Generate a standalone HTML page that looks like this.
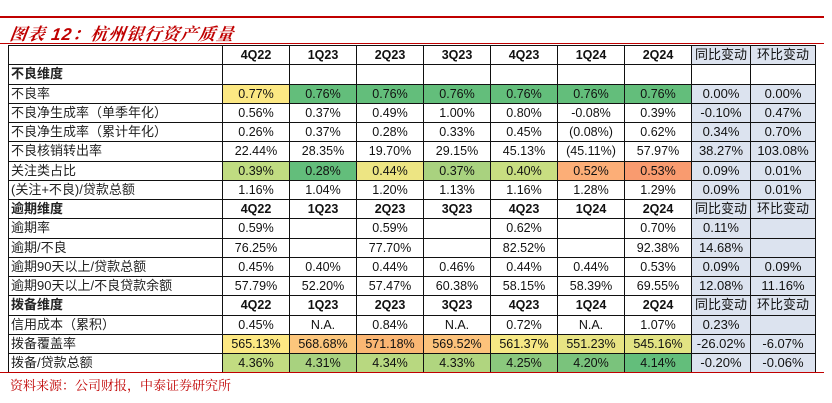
<!DOCTYPE html>
<html><head><meta charset="utf-8"><style>
body{margin:0;width:832px;height:403px;background:#fff;position:relative;overflow:hidden;font-family:"Liberation Sans","Noto Sans CJK SC",sans-serif;}
.rl{position:absolute;left:0;background:#c00000;height:2px;}
.title{position:absolute;left:10px;top:20px;font-size:17px;color:#c00000;font-style:italic;font-weight:bold;font-family:"Liberation Sans","Noto Serif CJK SC",serif;letter-spacing:1px;transform:skewX(-8deg);}
table{position:absolute;left:8px;top:45px;border-collapse:collapse;table-layout:fixed;}
tr{height:19.25px;}
td{border:1.6px solid #111;padding:0;font-size:12.5px;text-align:center;color:#111;white-space:nowrap;line-height:16px;}
td.l{text-align:left;padding-left:2px;font-size:13px;color:#222;}
td.b{font-weight:bold;}
.hd td{font-weight:bold;}
td.bl{background:#dce3ef;font-weight:normal;font-size:13px;}
.src{position:absolute;left:10px;top:375px;font-size:13px;color:#c00000;font-family:"Liberation Sans","Noto Serif CJK SC",serif;}
</style></head><body>
<div class="rl" style="top:16px;width:824px"></div>
<div class="title">图表 12：杭州银行资产质量</div>
<div class="rl" style="top:43px;width:824px;height:1px"></div>
<table>
<colgroup><col style="width:214px"><col style="width:67px"><col style="width:67px"><col style="width:67px"><col style="width:67px"><col style="width:67px"><col style="width:67px"><col style="width:67px"><col style="width:59px"><col style="width:65px"></colgroup>
<tr class="hd"><td></td><td>4Q22</td><td>1Q23</td><td>2Q23</td><td>3Q23</td><td>4Q23</td><td>1Q24</td><td>2Q24</td><td class="bl">同比变动</td><td class="bl">环比变动</td></tr>
<tr><td class="l b">不良维度</td><td></td><td></td><td></td><td></td><td></td><td></td><td></td><td></td><td></td></tr>
<tr><td class="l">不良率</td><td style="background:#fce883">0.77%</td><td style="background:#63be7b">0.76%</td><td style="background:#63be7b">0.76%</td><td style="background:#63be7b">0.76%</td><td style="background:#63be7b">0.76%</td><td style="background:#63be7b">0.76%</td><td style="background:#63be7b">0.76%</td><td class="bl">0.00%</td><td class="bl">0.00%</td></tr>
<tr><td class="l">不良净生成率（单季年化）</td><td>0.56%</td><td>0.37%</td><td>0.49%</td><td>1.00%</td><td>0.80%</td><td>-0.08%</td><td>0.39%</td><td class="bl">-0.10%</td><td class="bl">0.47%</td></tr>
<tr><td class="l">不良净生成率（累计年化）</td><td>0.26%</td><td>0.37%</td><td>0.28%</td><td>0.33%</td><td>0.45%</td><td>(0.08%)</td><td>0.62%</td><td class="bl">0.34%</td><td class="bl">0.70%</td></tr>
<tr><td class="l">不良核销转出率</td><td>22.44%</td><td>28.35%</td><td>19.70%</td><td>29.15%</td><td>45.13%</td><td>(45.11%)</td><td>57.97%</td><td class="bl">38.27%</td><td class="bl">103.08%</td></tr>
<tr><td class="l">关注类占比</td><td style="background:#c0dc81">0.39%</td><td style="background:#63be7b">0.28%</td><td style="background:#ede583">0.44%</td><td style="background:#a9d27f">0.37%</td><td style="background:#c8de81">0.40%</td><td style="background:#fcae77">0.52%</td><td style="background:#f99b6f">0.53%</td><td class="bl">0.09%</td><td class="bl">0.01%</td></tr>
<tr><td class="l">(关注+不良)/贷款总额</td><td>1.16%</td><td>1.04%</td><td>1.20%</td><td>1.13%</td><td>1.16%</td><td>1.28%</td><td>1.29%</td><td class="bl">0.09%</td><td class="bl">0.01%</td></tr>
<tr class="hd"><td class="l">逾期维度</td><td>4Q22</td><td>1Q23</td><td>2Q23</td><td>3Q23</td><td>4Q23</td><td>1Q24</td><td>2Q24</td><td class="bl">同比变动</td><td class="bl">环比变动</td></tr>
<tr><td class="l">逾期率</td><td>0.59%</td><td></td><td>0.59%</td><td></td><td>0.62%</td><td></td><td>0.70%</td><td class="bl">0.11%</td><td class="bl"></td></tr>
<tr><td class="l">逾期/不良</td><td>76.25%</td><td></td><td>77.70%</td><td></td><td>82.52%</td><td></td><td>92.38%</td><td class="bl">14.68%</td><td class="bl"></td></tr>
<tr><td class="l">逾期90天以上/贷款总额</td><td>0.45%</td><td>0.40%</td><td>0.44%</td><td>0.46%</td><td>0.44%</td><td>0.44%</td><td>0.53%</td><td class="bl">0.09%</td><td class="bl">0.09%</td></tr>
<tr><td class="l">逾期90天以上/不良贷款余额</td><td>57.79%</td><td>52.20%</td><td>57.47%</td><td>60.38%</td><td>58.15%</td><td>58.39%</td><td>69.55%</td><td class="bl">12.08%</td><td class="bl">11.16%</td></tr>
<tr class="hd"><td class="l">拨备维度</td><td>4Q22</td><td>1Q23</td><td>2Q23</td><td>3Q23</td><td>4Q23</td><td>1Q24</td><td>2Q24</td><td class="bl">同比变动</td><td class="bl">环比变动</td></tr>
<tr><td class="l">信用成本（累积）</td><td>0.45%</td><td>N.A.</td><td>0.84%</td><td>N.A.</td><td>0.72%</td><td>N.A.</td><td>1.07%</td><td class="bl">0.23%</td><td class="bl"></td></tr>
<tr><td class="l">拨备覆盖率</td><td style="background:#fde883">565.13%</td><td style="background:#fcc67c">568.68%</td><td style="background:#fbb673">571.18%</td><td style="background:#fcc27b">569.52%</td><td style="background:#f6e884">561.37%</td><td style="background:#e8e483">551.23%</td><td style="background:#e2e383">545.16%</td><td class="bl">-26.02%</td><td class="bl">-6.07%</td></tr>
<tr><td class="l">拨备/贷款总额</td><td style="background:#c2dc81">4.36%</td><td style="background:#a8d27f">4.31%</td><td style="background:#b8d880">4.34%</td><td style="background:#b0d57f">4.33%</td><td style="background:#8bc87d">4.25%</td><td style="background:#7ac37c">4.20%</td><td style="background:#63be7b">4.14%</td><td class="bl">-0.20%</td><td class="bl">-0.06%</td></tr>
</table>
<div class="rl" style="top:372px;width:824px;height:1px"></div>
<div class="src">资料来源：公司财报，中泰证券研究所</div>
</body></html>
